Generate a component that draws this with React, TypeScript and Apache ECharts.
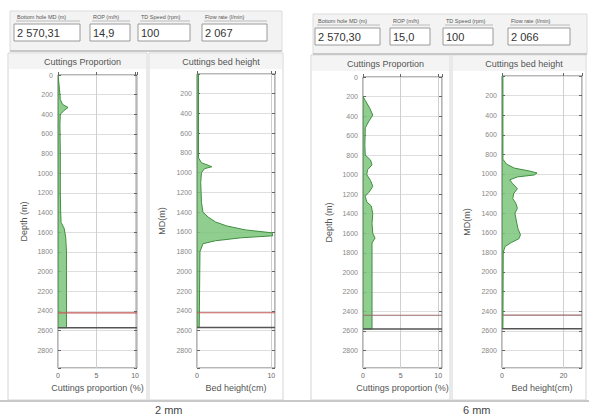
import React, { useEffect, useRef } from 'react';
import * as echarts from 'echarts';

const headerLabels = ['Bottom hole MD (m)', 'ROP (m/h)', 'TD Speed (rpm)', 'Flow rate (l/min)'];
const header2mm = ['2 570,31', '14,9', '100', '2 067'];
const header6mm = ['2 570,30', '15,0', '100', '2 066'];
const caseLabels = ['2 mm', '6 mm'];
const chartTitles = ['Cuttings Proportion', 'Cuttings bed height'];
const yAxisNames = ['Depth (m)', 'MD(m)'];
const xAxisNames = ['Cuttings proportion (%)', 'Bed height(cm)'];
const redLineDepth = [2420, 2440];
const bitDepth = [2570, 2580];

// [depth (m), value]
const prop2mm: [number, number][] = [
  [0, 0], [150, 0.2], [250, 0.3], [300, 0.6], [330, 1.3], [360, 0.8], [400, 0.3],
  [500, 0.25], [800, 0.3], [1000, 0.3], [1200, 0.3], [1400, 0.35], [1500, 0.4],
  [1560, 0.8], [1650, 1.0], [1800, 1.1], [2000, 1.1], [2200, 1.1], [2400, 1.1], [2570, 1.1],
];
const bed2mm: [number, number][] = [
  [0, 0.2], [850, 0.2], [900, 0.6], [940, 2.0], [960, 1.0], [1000, 0.6], [1100, 0.5],
  [1300, 0.6], [1400, 0.8], [1450, 1.5], [1500, 2.5], [1540, 4.0], [1580, 6.5],
  [1610, 10.1], [1640, 10.2], [1660, 6.0], [1690, 2.5], [1720, 0.8], [1800, 0.4], [2570, 0.3],
];
const prop6mm: [number, number][] = [
  [200, 0], [240, 0.3], [320, 0.9], [390, 1.3], [450, 0.8], [520, 0.3], [700, 0.25],
  [800, 0.3], [850, 1.0], [900, 1.2], [950, 0.6], [1000, 0.5], [1060, 1.0], [1120, 1.3],
  [1180, 0.8], [1220, 0.3], [1280, 0.5], [1320, 1.1], [1400, 1.3], [1500, 1.2], [1600, 1.3],
  [1650, 1.6], [1700, 1.2], [1900, 1.2], [2200, 1.2], [2580, 1.2],
];
const bed6mm: [number, number][] = [
  [0, 0.3], [850, 0.3], [900, 1.5], [940, 4], [970, 9], [990, 11.4], [1010, 10.5],
  [1030, 5], [1060, 2.5], [1100, 3.5], [1150, 5.0], [1200, 3.8], [1250, 3.5], [1300, 4.5],
  [1350, 5.0], [1400, 4.2], [1450, 4.5], [1500, 4.8], [1560, 5.2], [1620, 6.0], [1660, 5.5],
  [1700, 3], [1740, 1], [1800, 0.4], [2570, 0.3],
];

const FONT = 'Liberation Sans, Arial, sans-serif';

const panels = [
  { left: 58, top: 75, width: 79, height: 293, xMax: 10.25, xInt: 5, data: prop2mm, kind: 0, c: 0, frame: [8, 53, 139, 347] },
  { left: 197, top: 74, width: 78, height: 294, xMax: 10.5, xInt: 10, data: bed2mm, kind: 1, c: 0, frame: [149, 53, 134, 347] },
  { left: 363, top: 77, width: 79, height: 291, xMax: 10.5, xInt: 5, data: prop6mm, kind: 0, c: 1, frame: [311, 55, 139, 345] },
  { left: 502, top: 76, width: 80, height: 292, xMax: 26, xInt: 20, data: bed6mm, kind: 1, c: 1, frame: [452, 55, 134, 345] },
];

const headerLayouts = [
  { x: 10, y: 11, w: 272, h: 40, labelY: 17, boxY: 24, boxes: [[14, 66], [90, 40], [138, 52], [202, 65]], values: header2mm },
  { x: 313, y: 14, w: 274, h: 40, labelY: 21, boxY: 28, boxes: [[315, 65], [390, 40], [443, 50], [508, 62]], values: header6mm },
];

export default function App() {
  const ref = useRef<HTMLDivElement>(null);
  useEffect(() => {
    if (!ref.current) return;
    const chart = echarts.init(ref.current, null, { renderer: 'svg' });
    const grid: any[] = [];
    const xAxis: any[] = [];
    const yAxis: any[] = [];
    const series: any[] = [];
    const graphic: any[] = [];

    panels.forEach((p, i) => {
      grid.push({ left: p.left, top: p.top, width: p.width, height: p.height, show: true, borderColor: '#6f6f6f', borderWidth: 1, backgroundColor: 'transparent' });
      xAxis.push({
        type: 'value', gridIndex: i, min: 0, max: p.xMax, interval: p.xInt,
        name: xAxisNames[p.kind], nameLocation: 'middle', nameGap: 14,
        nameTextStyle: { fontSize: 9, color: '#555', fontFamily: FONT },
        axisLine: { show: false },
        axisTick: { show: true, inside: true, length: 3, lineStyle: { color: '#666' } },
        axisLabel: { fontSize: 7, color: '#666', margin: 4, fontFamily: FONT, formatter: (v: number) => (v % p.xInt === 0 ? String(v) : '') },
        splitLine: { show: true, lineStyle: { color: '#cfcfcf', width: 1 } },
      });
      const yBase = { type: 'value', gridIndex: i, min: 0, max: 2980, interval: 200, inverse: true };
      yAxis.push({
        ...yBase, position: 'left',
        name: yAxisNames[p.kind], nameLocation: 'middle', nameGap: p.kind === 0 ? 30 : 31,
        nameTextStyle: { fontSize: 9, color: '#555', fontFamily: FONT },
        axisLine: { show: false },
        axisTick: { show: true, inside: true, length: 3, lineStyle: { color: '#666' } },
        axisLabel: {
          fontSize: 7, color: '#888', margin: 5, fontFamily: FONT,
          formatter: (v: number) => (v % 200 === 0 && v <= 2800 && !(p.kind === 1 && v === 0) ? String(v) : ''),
        },
        splitLine: { show: true, lineStyle: { color: '#dedede', width: 1 } },
      });
      yAxis.push({
        ...yBase, position: 'right',
        axisLine: { show: false }, axisLabel: { show: false }, splitLine: { show: false },
        axisTick: { show: true, inside: true, length: 3, lineStyle: { color: '#666' } },
      });
      const pts = p.data;
      series.push({
        type: 'custom', coordinateSystem: 'cartesian2d', xAxisIndex: i, yAxisIndex: i * 2,
        silent: true, clip: true,
        data: pts.map(([d, v]) => [v, d]),
        renderItem: (params: any, api: any) => {
          if (params.dataIndex !== 0) return null;
          const poly = pts.map(([d, v]) => api.coord([v, d]));
          const first = api.coord([0, pts[0][0]]);
          const last = api.coord([0, pts[pts.length - 1][0]]);
          return {
            type: 'polygon',
            shape: { points: [first, ...poly, last] },
            style: { fill: 'rgba(125,198,125,0.85)', stroke: '#3f8f3f', lineWidth: 1 },
          };
        },
      });
      series.push({
        type: 'line', xAxisIndex: i, yAxisIndex: i * 2, showSymbol: false, silent: true,
        data: [[0, redLineDepth[p.c]], [p.xMax, redLineDepth[p.c]]],
        lineStyle: { color: p.c === 0 ? '#c45858' : '#9a6a6a', width: 1.2 },
      });
      series.push({
        type: 'line', xAxisIndex: i, yAxisIndex: i * 2, showSymbol: false, silent: true,
        data: [[0, bitDepth[p.c]], [p.xMax, bitDepth[p.c]]],
        lineStyle: { color: '#555', width: 1.5 },
      });

      const [fx, fy, fw, fh] = p.frame;
      graphic.push({ type: 'rect', shape: { x: fx, y: fy, width: fw, height: fh }, style: { fill: 'none', stroke: '#d4d4d4', lineWidth: 1 } });
      graphic.push({ type: 'rect', shape: { x: fx + 1, y: fy + 1, width: fw - 2, height: 15 }, style: { fill: '#f4f4f4' } });
      graphic.push({
        type: 'text', x: fx + fw / 2 + 5, y: fy + 9,
        style: { text: chartTitles[p.kind], fontSize: 9, fill: '#555', fontFamily: FONT, align: 'center', verticalAlign: 'middle' },
      });
    });

    headerLayouts.forEach((h) => {
      graphic.push({ type: 'rect', shape: { x: h.x, y: h.y, width: h.w, height: h.h }, style: { fill: '#f3f3f3', stroke: '#dcdcdc', lineWidth: 1 } });
      graphic.push({ type: 'line', shape: { x1: h.x, y1: h.y + h.h, x2: h.x + h.w, y2: h.y + h.h }, style: { stroke: '#c8c8c8', lineWidth: 2 } });
      h.boxes.forEach(([bx, bw], k) => {
        graphic.push({
          type: 'text', x: bx + 3, y: h.labelY,
          style: { text: headerLabels[k], fontSize: 5.5, fill: '#555', fontFamily: FONT, align: 'left', verticalAlign: 'middle' },
        });
        graphic.push({ type: 'line', shape: { x1: bx + 2, y1: h.labelY + 4, x2: bx + bw, y2: h.labelY + 4 }, style: { stroke: '#bbb', lineWidth: 1 } });
        graphic.push({ type: 'rect', shape: { x: bx, y: h.boxY, width: bw, height: 17 }, style: { fill: '#ffffff', stroke: '#9a9a9a', lineWidth: 1 } });
        graphic.push({
          type: 'text', x: bx + 3, y: h.boxY + 9,
          style: { text: h.values[k], fontSize: 11, fill: '#333', fontFamily: FONT, align: 'left', verticalAlign: 'middle' },
        });
      });
    });

    graphic.push({ type: 'line', shape: { x1: 0, y1: 401, x2: 589, y2: 401 }, style: { stroke: '#c8c8c8', lineWidth: 2 } });
    graphic.push({ type: 'text', x: 155, y: 415, style: { text: caseLabels[0], fontSize: 11, fill: '#444', fontFamily: FONT, align: 'left', verticalAlign: 'bottom' } });
    graphic.push({ type: 'text', x: 463, y: 415, style: { text: caseLabels[1], fontSize: 11, fill: '#444', fontFamily: FONT, align: 'left', verticalAlign: 'bottom' } });

    chart.setOption({ animation: false, backgroundColor: '#ffffff', grid, xAxis, yAxis, series, graphic });
    return () => chart.dispose();
  }, []);
  return <div ref={ref} style={{ position: 'fixed', left: 0, top: 0, width: 589, height: 416 }} />;
}
